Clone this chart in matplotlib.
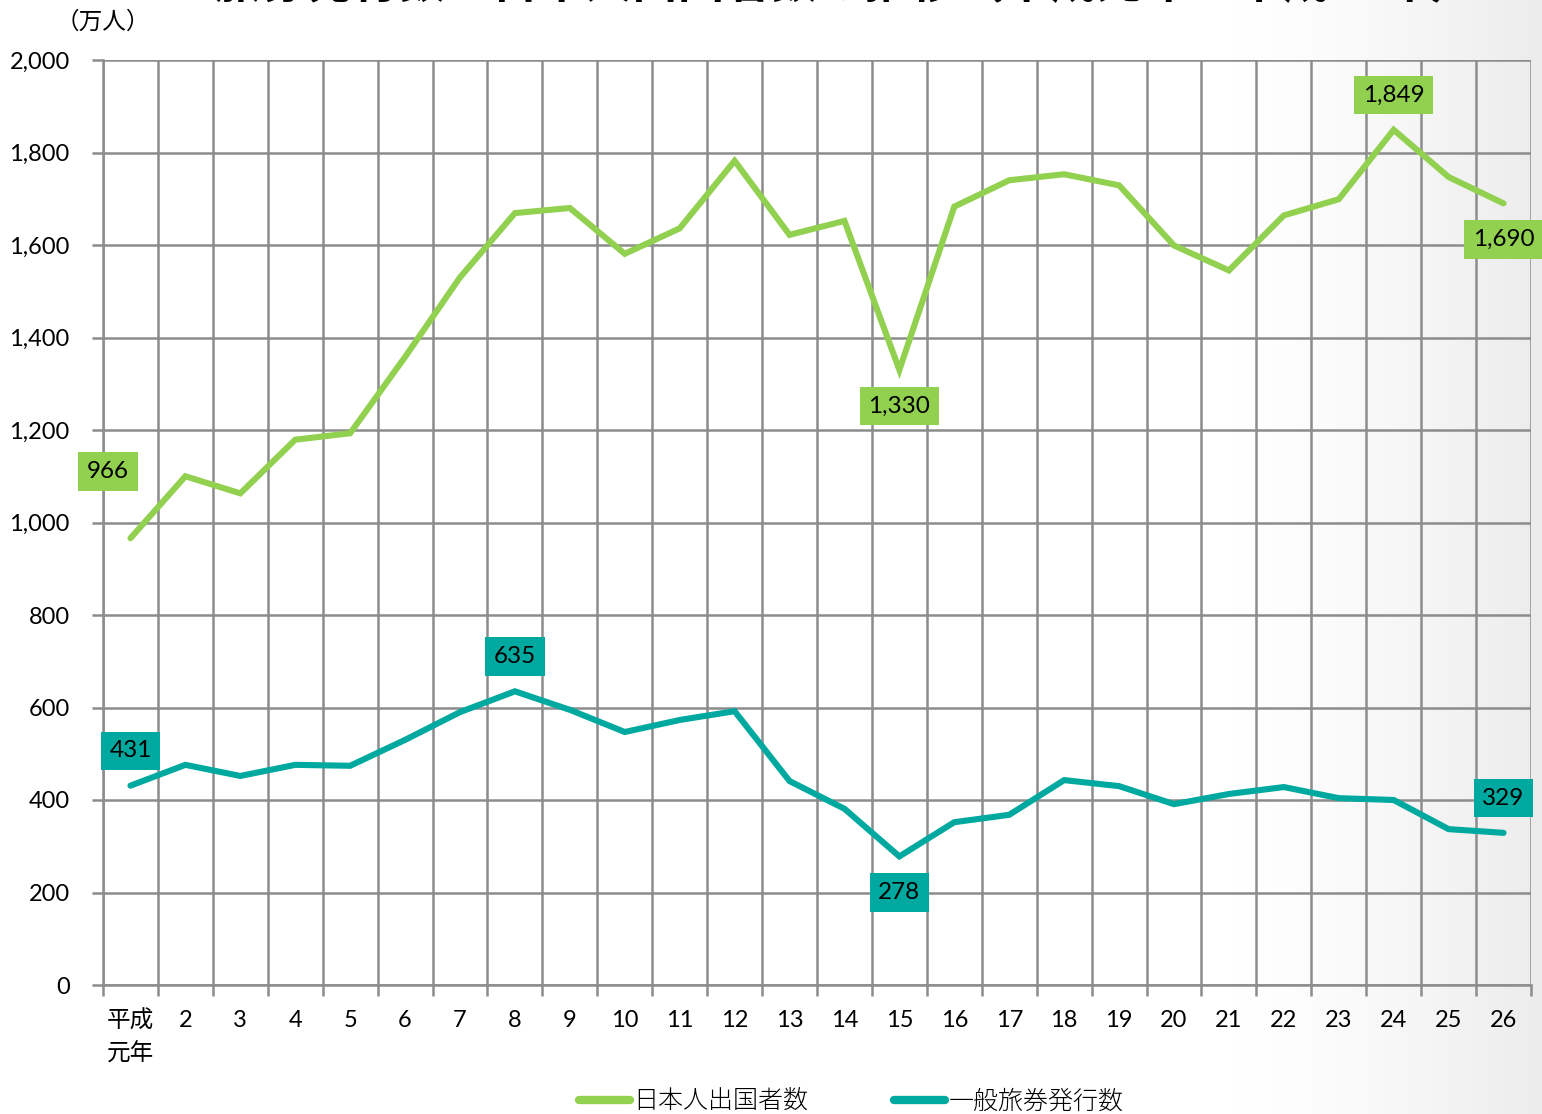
import numpy as np
import matplotlib
matplotlib.use("Agg")
import matplotlib.pyplot as plt
from matplotlib.lines import Line2D

plt.rcParams['font.family'] = ['Lato', 'Noto Sans CJK JP', 'DejaVu Sans']

# ---------------- data ----------------
years = ["平成\n元年"] + [str(i) for i in range(2, 27)]
departures = [966, 1100, 1063, 1179, 1193, 1358, 1530, 1669, 1680, 1581, 1636, 1782, 1622,
              1652, 1330, 1683, 1740, 1753, 1729, 1599, 1545, 1664, 1699, 1849, 1747, 1690]
passports = [431, 476, 452, 476, 474, 530, 590, 635, 595, 547, 573, 592, 441,
             381, 278, 352, 368, 443, 430, 391, 413, 428, 404, 400, 337, 329]
series_names = ["日本人出国者数", "一般旅券発行数"]
yticks = [0, 200, 400, 600, 800, 1000, 1200, 1400, 1600, 1800, 2000]
ytick_labels = ["0", "200", "400", "600", "800", "1,000", "1,200", "1,400", "1,600", "1,800", "2,000"]
# labelled points: (category index, placement)
dep_labels = [(0, "left_above"), (14, "below"), (23, "above"), (25, "below")]
pas_labels = [(0, "above"), (7, "above"), (14, "below"), (25, "above")]
title = "旅券発行数・日本人出国者数の推移（平成元年〜平成26年）"
unit = "（万人）"

GREEN = "#92D050"
TEAL = "#00A99F"
GRID = "#8C8C8C"

W, H = 1542, 1114
fig = plt.figure(figsize=(W / 100, H / 100), dpi=100)

# background gradient (white -> light grey at right edge)
bg = fig.add_axes([0, 0, 1, 1], zorder=-10)
xs = np.linspace(0, 1, 1542)
grad = np.clip((xs - 0.80) / 0.20, 0, 1) ** 1.4
val = 1.0 - 0.075 * grad
rgb = np.dstack([np.tile(val, (4, 1))] * 3)
bg.imshow(rgb, aspect="auto", extent=[0, 1, 0, 1], interpolation="bilinear")
bg.set_axis_off()

L, R, T, B = 103, 1531, 60, 985
ax = fig.add_axes([L / W, 1 - B / H, (R - L) / W, (B - T) / H])
ax.patch.set_alpha(0)

x = np.arange(1, len(years) + 1)
ax.plot(x, departures, color=GREEN, lw=4.4, solid_capstyle="round", solid_joinstyle="miter", zorder=3)
ax.plot(x, passports, color=TEAL, lw=4.4, solid_capstyle="round", solid_joinstyle="miter", zorder=3)

ax.set_xlim(0.5, len(years) + 0.5)
ax.set_ylim(0, 2000)

# y axis
ax.set_yticks(yticks)
ax.set_yticklabels(ytick_labels, fontsize=17)
ax.tick_params(axis="y", length=8, width=1.8, color=GRID, pad=16)

# x axis: boundaries as major ticks (gridlines), labels at centers
bounds = np.arange(0.5, len(years) + 1, 1.0)
ax.set_xticks(bounds)
ax.set_xticklabels([""] * len(bounds))
ax.set_xticks(x, minor=True)
ax.set_xticklabels(years, minor=True, fontsize=17, linespacing=1.55, va="top")
ax.tick_params(axis="x", which="major", length=8, width=1.8, color=GRID)
ax.tick_params(axis="x", which="minor", length=0, pad=18)

ax.grid(True, which="major", color=GRID, lw=1.8, zorder=1)
ax.set_axisbelow(True)
for s in ["top", "right"]:
    ax.spines[s].set_visible(False)
for s in ["left", "bottom"]:
    ax.spines[s].set_color(GRID)
    ax.spines[s].set_linewidth(1.8)

# data labels
def fmt(v):
    return f"{v:,}"

off = {"above": (0, 25), "below": (0, -26), "left_above": (-16, 48)}
for series, labels, col in [(departures, dep_labels, GREEN), (passports, pas_labels, TEAL)]:
    for i, pos in labels:
        dx, dy = off[pos]
        ax.annotate(fmt(series[i]), xy=(x[i], series[i]), xytext=(dx, dy),
                    textcoords="offset points", ha="center", va="center", fontsize=17.5,
                    bbox=dict(boxstyle="square,pad=0.36", fc=col, ec="none"), zorder=5,
                    annotation_clip=False)

# unit label
fig.text(103 / W, 1 - 22 / H, unit, ha="center", va="center", fontsize=17,
         family=["Noto Sans CJK JP"])

# title (cut off at the top edge, as in the reference)
fig.text(845 / W, 1 + 3 / H, title, ha="center", va="baseline", fontsize=33.5,
         fontweight="bold", family=["Noto Sans CJK JP"])

# legend
handles = [Line2D([], [], color=GREEN, lw=6, solid_capstyle="round"),
           Line2D([], [], color=TEAL, lw=6, solid_capstyle="round")]
fig.legend(handles, series_names, loc="center", bbox_to_anchor=(851 / W, 1 - 1101 / H),
           ncol=2, frameon=False, handlelength=2.05, handletextpad=0.15,
           columnspacing=3.4, prop={"family": ["Noto Sans CJK JP"], "size": 18, "weight": "light"})

fig.savefig("out.png", dpi=100)
